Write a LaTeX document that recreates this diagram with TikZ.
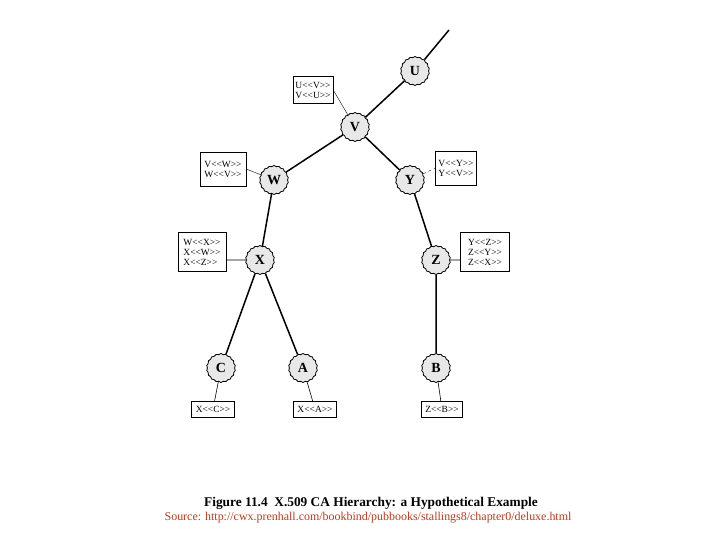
\documentclass[tikz,border=0pt]{standalone}
\usepackage{fontspec}
\setmainfont{Liberation Serif}
\usetikzlibrary{shapes.geometric}
\definecolor{srcred}{RGB}{178,62,32}
\newcommand\issued[2]{#1<\kern0pt<#2>\kern0pt>}

\begin{document}
\begin{tikzpicture}[x=1bp,y=-1bp,
  ca/.style={draw,thick,star,star points=18,star point ratio=1.07,fill=gray!18,minimum size=29bp,inner sep=0pt,font=\fontsize{14}{14}\selectfont\bfseries},
  cert/.style={draw,thin,fill=white,align=left,inner sep=2bp,font=\fontsize{9.5}{10}\selectfont},
  link/.style={line width=1.5bp},
  tie/.style={thin}]
\useasboundingbox (0,0) rectangle (720,540);
% CAs
\node[ca] (U) at (415,71) {U};
\node[ca] (V) at (355,127) {V};
\node[ca] (W) at (274,180) {W};
\node[ca] (Y) at (410,180) {Y};
\node[ca] (X) at (260,260) {X};
\node[ca] (Z) at (436,260) {Z};
\node[ca] (C) at (221,368) {C};
\node[ca] (A) at (303,368) {A};
\node[ca] (B) at (436,368) {B};
\coordinate (up) at (449,30);
% certificates held in the directory
\node[cert,minimum width=40bp,minimum height=27bp] (ubox) at (313,90) {\issued UV\\\issued VU};
\node[cert,minimum width=46bp,minimum height=34bp] (wbox) at (223,169) {\issued VW\\\issued WV};
\node[cert,minimum width=41bp,minimum height=34bp] (ybox) at (456,168) {\issued VY\\\issued YV};
\node[cert,minimum width=48bp,minimum height=39bp] (xbox) at (202,252) {\issued WX\\\issued XW\\\issued XZ};
\node[cert,minimum width=49bp,minimum height=39bp] (zbox) at (485,252) {\issued YZ\\\issued ZY\\\issued ZX};
\node[cert,minimum width=43bp,minimum height=16bp] (cbox) at (213,409) {\issued XC};
\node[cert,minimum width=43bp,minimum height=16bp] (abox) at (315,409) {\issued XA};
\node[cert,minimum width=41bp,minimum height=16bp] (bbox) at (442,409) {\issued ZB};
% hierarchy
\draw[link] (U) -- (up);
\draw[link] (U) -- (V);
\draw[link] (V) -- (W);
\draw[link] (V) -- (Y);
\draw[link] (W) -- (X);
\draw[link] (Y) -- (Z);
\draw[link] (X) -- (C);
\draw[link] (X) -- (A);
\draw[link] (Z) -- (B);
% ties to the certificates
\draw[tie] (ubox.east) -- (V);
\draw[tie] (wbox.east) -- (W);
\draw[tie,dashed] (Y) -- (ybox.west);
\draw[semithick] (X) -- (X -| xbox.east);
\draw[semithick] (Z) -- (Z -| zbox.west);
\draw[semithick] (C) -- (cbox);
\draw[semithick] (A) -- (abox);
\draw[semithick] (B) -- (bbox);
% caption
\node[font=\fontsize{13.4}{15}\selectfont\bfseries] (title) at (371,503) {Figure 11.4\enspace X.509 CA Hierarchy: a Hypothetical Example};
\node[font=\fontsize{12}{13}\selectfont,text=srcred] (source) at (368,518) {Source: http://cwx.prenhall.com/bookbind/pubbooks/stallings8/chapter0/deluxe.html};
\end{tikzpicture}
\end{document}
